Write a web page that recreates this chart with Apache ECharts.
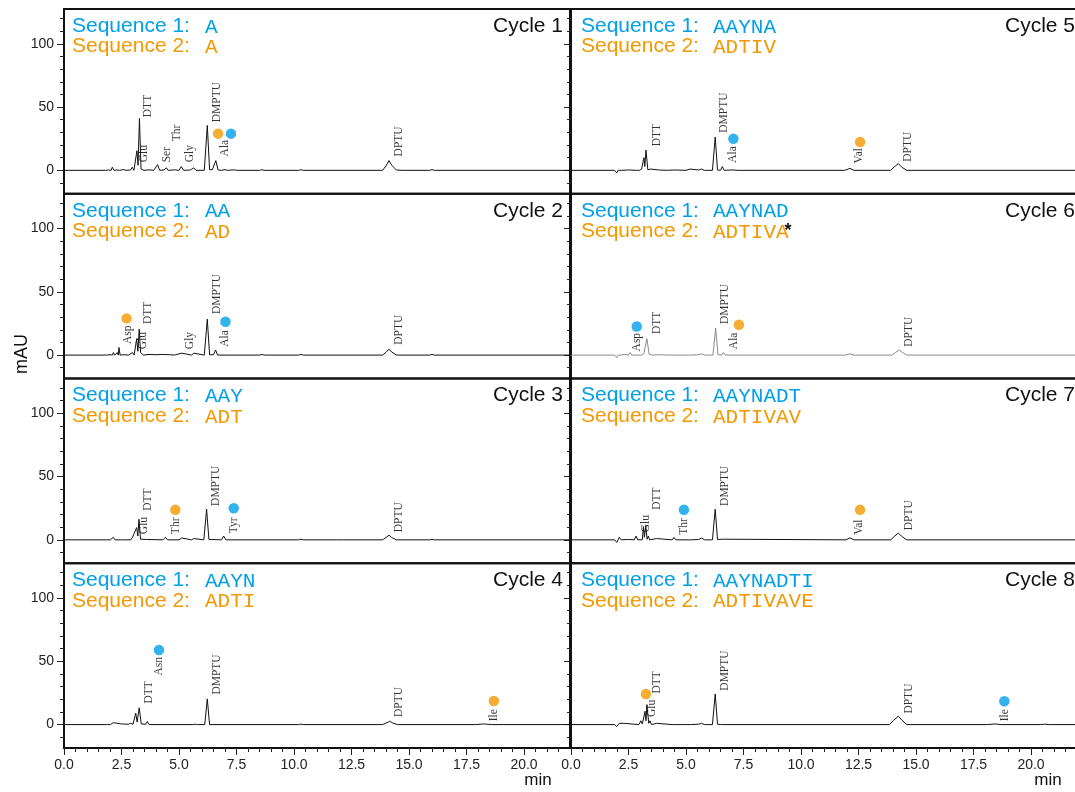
<!DOCTYPE html>
<html>
<head>
<meta charset="utf-8">
<script src="https://cdn.jsdelivr.net/npm/echarts@6/dist/echarts.min.js"></script>
<style>
html, body { margin: 0; padding: 0; background: #fff; overflow: hidden; }
#main { width: 1079px; height: 792px; }
</style>
</head>
<body>
<div id="main"></div>
<script>
// chromatogram traces, [time (min), mAU]
var trace1 = [[0,0],[1.8,0],[1.87,-1],[1.95,0.3],[2.05,0],[2.1,2.5],[2.17,0],[2.3,0.3],[2.35,1.2],[2.42,0],[2.6,0.6],[2.7,0],[2.9,0.3],[2.97,2.5],[3.04,0],[3.1,0.5],[3.17,15.5],[3.22,4],[3.28,41],[3.35,1],[3.41,2.5],[3.48,0],[3.7,0.4],[3.9,0],[4.07,4.5],[4.16,0],[4.35,0.3],[4.45,2],[4.53,0],[4.8,0.4],[5.0,0],[5.1,3],[5.2,0],[5.5,0.3],[5.64,2],[5.74,0],[6.1,0],[6.23,35.5],[6.33,0.5],[6.45,0.5],[6.6,7.7],[6.7,0.3],[6.85,0],[7.0,0.6],[7.1,0],[7.4,0.4],[7.5,0],[8.5,0],[8.6,0.5],[8.7,0],[10.2,0],[10.3,0.5],[10.4,0],[13.85,0],[14.0,3.5],[14.13,7.7],[14.25,4],[14.45,0.3],[14.7,0],[15.9,0],[16.0,0.6],[16.1,0],[22,0]];
var trace2 = [[0,0],[1.85,0],[1.93,-1],[2.0,0.3],[2.1,0],[2.15,2],[2.2,0],[2.28,0.5],[2.32,2],[2.36,0],[2.39,6],[2.44,0],[2.6,0.3],[2.8,0],[2.98,2],[3.05,0],[3.12,1],[3.16,13],[3.21,3],[3.27,20.5],[3.33,2],[3.38,3],[3.45,0],[3.7,0.5],[4.0,0.3],[4.3,0.5],[4.6,0.3],[4.8,0],[5.12,1.5],[5.2,0],[5.55,0],[5.64,1.5],[5.72,0],[6.1,0],[6.23,28.4],[6.33,0.3],[6.5,0.3],[6.59,4],[6.68,0],[8.5,0],[8.6,0.5],[8.7,0],[10.2,0],[10.3,0.5],[10.4,0],[13.85,0],[14.0,2.2],[14.13,4.7],[14.25,2.4],[14.45,0],[15.9,0],[16.0,0.5],[16.1,0],[22,0]];
var trace3 = [[0,0],[1.85,0],[1.93,-1.5],[2.02,0],[2.14,2],[2.22,0],[2.36,0],[2.43,1.5],[2.5,0],[2.9,0],[2.98,2],[3.06,0.5],[3.16,9.7],[3.21,3],[3.26,16.3],[3.33,0.5],[3.6,0.3],[4.3,0],[4.41,2],[4.5,0],[5.0,0],[5.12,1.5],[5.2,0],[5.55,0],[5.64,1],[5.72,0],[6.08,0],[6.2,24.2],[6.3,0.3],[6.85,0],[6.94,3],[7.04,0],[10.2,0],[10.3,0.5],[10.4,0],[12.0,0],[12.08,0.5],[12.16,0],[13.85,0],[14.0,1.8],[14.13,3.7],[14.25,1.8],[14.45,0],[15.9,0],[16.0,0.4],[16.1,0],[22,0]];
var trace4 = [[0,0],[1.85,0],[1.93,-1.5],[2.02,0],[2.14,1.5],[2.22,0.3],[2.5,0.5],[2.8,0.3],[2.9,1],[3.0,0.3],[3.06,0.5],[3.12,9],[3.18,2],[3.27,13.2],[3.36,0.5],[3.55,0.3],[3.62,2.5],[3.7,0],[5.6,0],[5.7,0.3],[5.8,0],[6.12,0],[6.23,20.3],[6.33,0],[10.2,0],[10.3,0.4],[10.4,0],[13.85,0],[14.0,1.2],[14.16,2.6],[14.3,1.2],[14.5,0],[17.9,0],[18.24,0.5],[18.6,0],[22,0]];
var trace5 = [[0,0],[1.9,0],[1.99,-2],[2.05,0],[2.1,1],[2.18,0],[2.5,0.3],[2.85,0],[2.9,1],[2.97,0],[3.07,1],[3.12,0],[3.17,10],[3.21,3],[3.26,16],[3.34,0.5],[3.48,1],[3.55,0],[3.8,0.3],[4.2,0],[4.5,0.3],[5.0,0],[5.17,1],[5.25,0],[5.55,0.3],[5.68,1],[5.8,0],[6.15,0],[6.27,26.3],[6.37,0.3],[6.5,0],[6.58,3],[6.66,0],[7.0,0.3],[7.3,0],[11.9,0],[12.13,1.5],[12.3,0],[13.9,0],[14.05,2.6],[14.23,5.3],[14.38,2.5],[14.6,0],[22,0]];
var trace6 = [[0,0],[1.9,0],[1.99,-2],[2.05,0],[2.1,1],[2.18,0],[2.35,0.5],[2.5,0],[2.57,2],[2.65,0],[2.97,0],[3.04,1.5],[3.1,0],[3.18,2],[3.3,13],[3.4,0.5],[3.48,1],[3.55,0],[3.8,0.3],[4.3,0],[5.1,0],[5.17,1],[5.25,0],[5.55,0.3],[5.68,1],[5.8,0],[6.17,0],[6.29,21.3],[6.39,0.3],[6.55,0],[6.62,2],[6.7,0],[11.95,0],[12.13,1],[12.3,0],[13.95,0],[14.1,2],[14.27,4],[14.42,2],[14.6,0],[22,0]];
var trace7 = [[0,0],[1.9,0],[1.99,-2],[2.05,0],[2.1,2],[2.18,0],[2.5,0.3],[2.75,0],[2.83,3],[2.9,0],[3.1,0],[3.15,10.5],[3.19,2],[3.25,11],[3.31,0.5],[3.36,3],[3.42,0],[3.72,1],[3.8,0],[4.4,0],[4.48,2],[4.56,0],[5.1,0],[5.17,1],[5.25,0],[5.55,0.3],[5.68,1.5],[5.8,0],[6.15,0],[6.27,24.2],[6.37,0.3],[6.62,0.5],[6.7,0],[11.95,0],[12.13,1.5],[12.3,0],[13.9,0],[14.05,2.6],[14.23,5.3],[14.4,2.5],[14.6,0],[22,0]];
var trace8 = [[0,0],[1.9,0],[1.99,-1.5],[2.05,0],[2.1,1],[2.18,0.3],[2.3,1],[2.38,0],[2.95,0],[3.04,3],[3.1,0.5],[3.22,10.5],[3.26,3],[3.3,15.8],[3.38,1],[3.43,3],[3.5,0],[3.72,1],[3.8,0],[4.4,0],[4.45,1],[4.52,0],[5.05,0],[5.13,1],[5.2,0],[5.55,0.3],[5.68,1],[5.8,0],[6.15,0],[6.27,24.2],[6.37,0.3],[6.5,0],[13.85,0],[14.02,3.3],[14.23,6.6],[14.4,3.3],[14.6,0],[18.1,0],[18.43,0.5],[18.7,0],[20.4,0],[20.6,0.3],[20.8,0],[22,0]];
var traces = [trace1, trace2, trace3, trace4, trace5, trace6, trace7, trace8];

// peak labels: [name, time, mAU at text foot]
var peaks1 = [['Glu',3.46,6.3],['DTT',3.65,42],['Ser',4.46,6.3],['Thr',4.91,23],['Gly',5.48,6.3],['DMPTU',6.67,38],['Ala',7.02,11],['DPTU',14.57,11]];
var peaks2 = [['Asp',2.78,8.7],['Glu',3.45,4.7],['DTT',3.67,24.5],['Gly',5.47,4.7],['DMPTU',6.67,32.4],['Ala',7.02,6.6],['DPTU',14.56,8.2]];
var peaks3 = [['Glu',3.46,4.5],['DTT',3.67,22.9],['Thr',4.85,4.5],['DMPTU',6.62,26.8],['Tyr',7.38,5.3],['DPTU',14.57,6]];
var peaks4 = [['DTT',3.7,16.6],['Asn',4.13,38.7],['DMPTU',6.65,23.7],['DPTU',14.57,6],['Ile',18.69,2.6]];
var peaks5 = [['DTT',3.72,19],['DMPTU',6.65,29.7],['Ala',7.06,6],['Val',12.52,5.5],['DPTU',14.67,6.8]];
var peaks6 = [['Asp',2.86,2.9],['DTT',3.72,16.6],['DMPTU',6.7,24.5],['Ala',7.09,4.7],['DPTU',14.7,6.6]];
var peaks7 = [['Glu',3.26,6],['DTT',3.72,23.7],['Thr',4.91,4],['DMPTU',6.7,26.8],['Val',12.52,4],['DPTU',14.7,7.6]];
var peaks8 = [['Glu',3.51,6],['DTT',3.72,24.5],['DMPTU',6.7,26.8],['DPTU',14.7,8.7],['Ile',18.87,2.6]];
var peaks = [peaks1, peaks2, peaks3, peaks4, peaks5, peaks6, peaks7, peaks8];

// residue markers: [time, mAU, sequence no.]
var marks1 = [[6.7,29,2],[7.26,29,1]];
var marks2 = [[2.72,29,2],[7.02,26.3,1]];
var marks3 = [[4.84,23.7,2],[7.38,25,1]];
var marks4 = [[4.13,59,1],[18.69,18.7,2]];
var marks5 = [[7.06,25,1],[12.57,22.4,2]];
var marks6 = [[2.86,22.6,1],[7.3,24,2]];
var marks7 = [[4.91,23.7,1],[12.57,23.7,2]];
var marks8 = [[3.26,24.2,2],[18.84,18.4,1]];
var marks = [marks1, marks2, marks3, marks4, marks5, marks6, marks7, marks8];

var seq1 = ['A', 'AA', 'AAY', 'AAYN', 'AAYNA', 'AAYNAD', 'AAYNADT', 'AAYNADTI'];
var seq2 = ['A', 'AD', 'ADT', 'ADTI', 'ADTIV', 'ADTIVA', 'ADTIVAV', 'ADTIVAVE'];
var cycles = ['Cycle 1', 'Cycle 2', 'Cycle 3', 'Cycle 4', 'Cycle 5', 'Cycle 6', 'Cycle 7', 'Cycle 8'];

var xTickValues = [0, 2.5, 5, 7.5, 10, 12.5, 15, 17.5, 20];
var xTickLabels = ['0.0', '2.5', '5.0', '7.5', '10.0', '12.5', '15.0', '17.5', '20.0'];
var xMinorTicks = [0,0.5,1,1.5,2,2.5,3,3.5,4,4.5,5,5.5,6,6.5,7,7.5,8,8.5,9,9.5,10,10.5,11,11.5,12,12.5,13,13.5,14,14.5,15,15.5,16,16.5,17,17.5,18,18.5,19,19.5,20,20.5,21,21.5];
var yTickValues = [0, 50, 100];
var yTickLabels = ['0', '50', '100'];
var yMinorTicks = [-10, 10, 20, 30, 40, 60, 70, 80, 90, 110, 120];

var BLUE = '#00a0e9', ORANGE = '#f39800';
var GL = [64, 571], GT = [9, 193.75, 378.5, 563.25], GW = 506, GH = 184.75;
var seqX = [72, 581], letX = [205, 713], cycX = [563, 1075];

var grids = [], xAxes = [], yAxes = [], series = [], graphics = [];
var tickFont = { fontSize: 14, color: '#222', fontFamily: 'Liberation Sans' };

for (var i = 0; i < 8; i++) {
  var col = Math.floor(i / 4), row = i % 4, isBottom = row === 3;
  grids.push({ left: GL[col], top: GT[row], width: GW, height: GH, show: true,
    borderColor: '#111', borderWidth: 2, backgroundColor: 'transparent' });
  xAxes.push({ type: 'value', gridIndex: i, min: 0, max: 22, position: 'bottom',
    axisLine: { show: false, onZero: false }, splitLine: { show: false },
    axisTick: { show: isBottom, customValues: xTickValues, length: 7, lineStyle: { color: '#222' } },
    axisLabel: Object.assign({ show: isBottom, customValues: xTickValues, margin: 10,
      formatter: function (v) { return xTickLabels[xTickValues.indexOf(v)]; } }, tickFont) });
  yAxes.push({ type: 'value', gridIndex: i, min: -18.5, max: 127.5, position: 'left',
    axisLine: { show: false, onZero: false }, splitLine: { show: false },
    axisTick: { show: true, customValues: yTickValues, length: 7, lineStyle: { color: '#222' } },
    axisLabel: Object.assign({ show: col === 0, customValues: yTickValues, margin: 10,
      formatter: function (v) { return yTickLabels[yTickValues.indexOf(v)]; } }, tickFont) });
}
// minor tick axes
for (var i = 0; i < 8; i++) {
  yAxes.push({ type: 'value', gridIndex: i, min: -18.5, max: 127.5, position: 'left',
    axisLine: { show: false, onZero: false }, splitLine: { show: false }, axisLabel: { show: false },
    axisTick: { show: true, customValues: yMinorTicks, length: 4, lineStyle: { color: '#222' } } });
}
[3, 7].forEach(function (g) {
  xAxes.push({ type: 'value', gridIndex: g, min: 0, max: 22, position: 'bottom',
    axisLine: { show: false, onZero: false }, splitLine: { show: false }, axisLabel: { show: false },
    axisTick: { show: true, customValues: xMinorTicks, length: 4, lineStyle: { color: '#222' } } });
});

for (var i = 0; i < 8; i++) {
  var col = Math.floor(i / 4), row = i % 4, py = GT[row];
  series.push({ type: 'line', xAxisIndex: i, yAxisIndex: i, data: traces[i],
    showSymbol: false, silent: true, animation: false,
    lineStyle: { width: 1, color: i === 5 ? '#8a8a8a' : '#111' } });
  series.push({ type: 'scatter', xAxisIndex: i, yAxisIndex: i, symbolSize: 0, silent: true, animation: false,
    data: peaks[i].map(function (p) { return { name: p[0], value: [p[1], p[2]] }; }),
    label: { show: true, position: 'inside', rotate: 90, align: 'left', verticalAlign: 'middle',
      formatter: '{b}', fontSize: 11.5, color: '#000', fontFamily: 'Liberation Serif' } });
  series.push({ type: 'scatter', xAxisIndex: i, yAxisIndex: i, symbolSize: 10.5, silent: true, animation: false,
    data: marks[i].map(function (m) { return { value: [m[0], m[1]], itemStyle: { color: m[2] === 1 ? BLUE : ORANGE } }; }) });

  graphics.push({ type: 'text', x: seqX[col], y: py + 17, style: { text: 'Sequence 1:', fill: BLUE,
    fontSize: 21, fontFamily: 'Liberation Sans', verticalAlign: 'middle' } });
  graphics.push({ type: 'text', x: seqX[col], y: py + 37.5, style: { text: 'Sequence 2:', fill: ORANGE,
    fontSize: 21, fontFamily: 'Liberation Sans', verticalAlign: 'middle' } });
  graphics.push({ type: 'text', x: letX[col], y: py + 18, style: { text: seq1[i], fill: BLUE,
    fontSize: 21, fontFamily: 'Liberation Mono', verticalAlign: 'middle' } });
  graphics.push({ type: 'text', x: letX[col], y: py + 38.5, style: { text: seq2[i], fill: ORANGE,
    fontSize: 21, fontFamily: 'Liberation Mono', verticalAlign: 'middle' } });
  graphics.push({ type: 'text', x: cycX[col], y: py + 17, style: { text: cycles[i], fill: '#111',
    fontSize: 21, fontFamily: 'Liberation Sans', align: 'right', verticalAlign: 'middle' } });
}
graphics.push({ type: 'text', x: 788, y: 231, style: { text: '*', fill: '#111', fontSize: 18, fontWeight: 'bold',
  fontFamily: 'Liberation Sans', align: 'center', verticalAlign: 'middle' } });
graphics.push({ type: 'text', x: 22, y: 354, rotation: Math.PI / 2, style: { text: 'mAU', fill: '#111',
  fontSize: 18, fontFamily: 'Liberation Sans', align: 'center', verticalAlign: 'middle' } });
graphics.push({ type: 'text', x: 538, y: 780, style: { text: 'min', fill: '#111',
  fontSize: 17, fontFamily: 'Liberation Sans', align: 'center', verticalAlign: 'middle' } });
graphics.push({ type: 'text', x: 1048, y: 780, style: { text: 'min', fill: '#111',
  fontSize: 17, fontFamily: 'Liberation Sans', align: 'center', verticalAlign: 'middle' } });

var chart = echarts.init(document.getElementById('main'), null, { renderer: 'canvas' });
chart.setOption({
  animation: false,
  backgroundColor: '#fff',
  grid: grids,
  xAxis: xAxes,
  yAxis: yAxes,
  series: series,
  graphic: graphics
});
</script>
</body>
</html>
